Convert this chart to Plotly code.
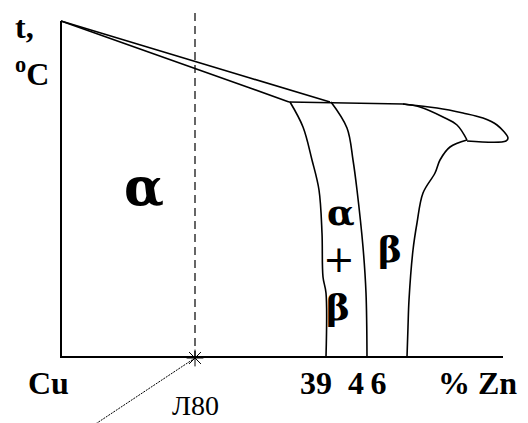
"""Cu-Zn phase diagram sketch (brass L80 marked)."""

import plotly.graph_objects as go

# diagram units: x = composition axis (0 at Cu), y = temperature axis (0 at baseline)
frame_x = [0, 0, 442]
frame_y = [336, 0, 0]

liquidus_x = [0, 189, 269]
liquidus_y = [336, 279, 255]

solidus_x = [0, 189, 228]
solidus_y = [336, 269, 255]

peritectic_x = [228, 342]
peritectic_y = [255, 253]

beta_top_x = [342, 376, 402, 422, 436, 447, 445, 406]
beta_top_y = [253, 249, 244, 239, 232, 219, 216, 216]

beta_low_x = [342, 359, 382, 396, 406]
beta_low_y = [253, 250, 240, 232, 217]

beta_right_x = [406, 389, 379, 374, 362, 356, 352, 348, 347, 346]
beta_right_y = [217, 210, 197, 184, 164, 134, 107, 57, 30, 0]

alpha_bound_x = [229, 242, 251, 258, 261, 262, 265, 265]
alpha_bound_y = [255, 230, 197, 167, 124, 80, 64, 0]

ab_bound_x = [270, 286, 292, 296, 302, 305, 306]
ab_bound_y = [255, 229, 197, 167, 110, 64, 0]

alloy_x = 134  # Л80
alloy_top = 357
pointer_x = [134, 30]
pointer_y = [-1, -70]

axis_labels = ["Cu", "39", "4\u20096", "% Zn"]
axis_label_x = [-13, 255, 306, 416]

phase_labels = ["<b>\u03b1</b>", "<b>\u03b1</b>", "+", "<b>\u03b2</b>", "<b>\u03b2</b>"]
phase_x = [83, 280, 278, 277, 329]
phase_y = [171, 145, 98, 50, 108]
phase_size = [52, 36, 38, 36, 36]

fig = go.Figure()

line = dict(color="black", width=1.6)
for xs, ys in [
    (liquidus_x, liquidus_y),
    (solidus_x, solidus_y),
    (peritectic_x, peritectic_y),
    (beta_top_x, beta_top_y),
    (beta_low_x, beta_low_y),
    (beta_right_x, beta_right_y),
    (alpha_bound_x, alpha_bound_y),
    (ab_bound_x, ab_bound_y),
]:
    fig.add_trace(go.Scatter(x=xs, y=ys, mode="lines", line=line, line_shape="spline"))

fig.add_trace(go.Scatter(x=frame_x, y=frame_y, mode="lines", line=dict(color="black", width=2)))

# alloy composition line and pointer
fig.add_trace(go.Scatter(
    x=[alloy_x, alloy_x], y=[alloy_top, 0], mode="lines",
    line=dict(color="black", width=1.2, dash="8px,5px"),
))
fig.add_trace(go.Scatter(
    x=pointer_x, y=pointer_y, mode="lines",
    line=dict(color="black", width=1, dash="2px,1px"),
))
fig.add_trace(go.Scatter(
    x=[alloy_x], y=[-1], mode="markers",
    marker=dict(symbol="asterisk-open", size=14, color="black",
                line=dict(color="black", width=1)),
))

serif_bold = "Liberation Serif"
for t, x in zip(axis_labels, axis_label_x):
    fig.add_annotation(x=x, y=-26, text=f"<b>{t}</b>", showarrow=False,
                       font=dict(family=serif_bold, size=32, color="black"))
for t, x, y, s in zip(phase_labels, phase_x, phase_y, phase_size):
    fig.add_annotation(x=x, y=y, text=t, showarrow=False,
                       font=dict(family="DejaVu Serif", size=s, color="black"))

fig.add_annotation(x=-48, y=330, text="<b>t,</b>", showarrow=False, xanchor="left",
                   font=dict(family=serif_bold, size=32, color="black"))
fig.add_annotation(x=-48, y=285, text="<b><sup>o</sup>C</b>", showarrow=False, xanchor="left",
                   font=dict(family=serif_bold, size=32, color="black"))
fig.add_annotation(x=alloy_x, y=-48, text="\u041b80", showarrow=False,
                   font=dict(family="Liberation Serif", size=28, color="black"))

# the page body has an 8px margin, so the figure is 8px smaller and ranges start 8px in
fig.update_layout(
    width=520, height=415, autosize=False,
    margin=dict(l=0, r=0, t=0, b=0),
    paper_bgcolor="white", plot_bgcolor="white",
    showlegend=False,
    xaxis=dict(range=[-53, 467], visible=False),
    yaxis=dict(range=[-66, 349], visible=False),
)

fig.write_html("out.html")
